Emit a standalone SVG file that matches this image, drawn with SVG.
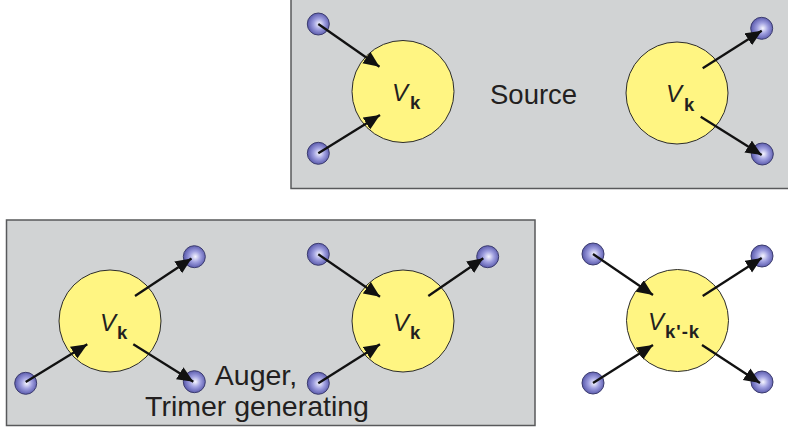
<svg xmlns="http://www.w3.org/2000/svg" width="788" height="428" viewBox="0 0 788 428">
<style>
.box{fill:#d1d3d4;stroke:#58595b;stroke-width:1.5}
.vert{fill:#fff582;stroke:#2b2b2b;stroke-width:1}
.ball{fill:url(#bg);stroke:#3c3c6e;stroke-width:1}
.lab{font-family:"Liberation Sans",Arial,sans-serif;fill:#231f20}
.V{font-size:24px;font-style:italic}
.k{font-size:18.5px;font-weight:bold}
.big{font-size:27.5px}
.con line{stroke:#111;stroke-width:2.3;marker-end:url(#ah)}
</style>
<defs>
<radialGradient id="bg" cx="0.52" cy="0.5" r="0.55" fx="0.55" fy="0.5">
<stop offset="0" stop-color="#f6f6ff"/>
<stop offset="0.45" stop-color="#a0a0e0"/>
<stop offset="1" stop-color="#5050a5"/>
</radialGradient>
<marker id="ah" markerUnits="userSpaceOnUse" markerWidth="18" markerHeight="15" refX="16" refY="7" orient="auto">
<path d="M0,0 L16,7 L0,14 Z" fill="#111"/>
</marker>
</defs>

<g id="source-box"><rect class="box" x="291" y="-2" width="500" height="190.5"/>
<text class="lab big" x="490" y="104">Source</text></g>
<g id="auger-box"><rect class="box" x="6.5" y="220" width="528.5" height="205.5"/>
<text class="lab big" text-anchor="middle" style="font-size:28.5px"><tspan x="256" y="385">Auger,</tspan><tspan x="257" y="416">Trimer generating</tspan></text></g>

<g id="v1"><circle class="vert" cx="403" cy="91.5" r="51"/><text class="lab"><tspan class="V" x="392" y="100.5">V</tspan><tspan class="k" x="410" y="109">k</tspan></text></g>
<g id="v2"><circle class="vert" cx="677" cy="93" r="51"/><text class="lab"><tspan class="V" x="666" y="102">V</tspan><tspan class="k" x="684" y="110.5">k</tspan></text></g>
<g id="v3"><circle class="vert" cx="110" cy="321" r="51"/><text class="lab"><tspan class="V" x="100" y="330.5">V</tspan><tspan class="k" x="117" y="339">k</tspan></text></g>
<g id="v4"><circle class="vert" cx="403" cy="321" r="51"/><text class="lab"><tspan class="V" x="393" y="330.5">V</tspan><tspan class="k" x="410" y="339">k</tspan></text></g>
<g id="v5"><circle class="vert" cx="677.5" cy="320.5" r="51"/><text class="lab"><tspan class="V" x="648" y="329.5">V</tspan><tspan class="k" x="665" y="338" letter-spacing="1">k'-k</tspan></text></g>

<g id="b1"><circle class="ball" cx="318.3" cy="24" r="11"/></g>
<g id="b2"><circle class="ball" cx="318.3" cy="153.3" r="11"/></g>
<g id="b3"><circle class="ball" cx="761.7" cy="28.3" r="11"/></g>
<g id="b4"><circle class="ball" cx="762.3" cy="154" r="11"/></g>
<g id="b5"><circle class="ball" cx="194.3" cy="256.7" r="11"/></g>
<g id="b6"><circle class="ball" cx="25.7" cy="383.3" r="11"/></g>
<g id="b7"><circle class="ball" cx="194.3" cy="381.7" r="11"/></g>
<g id="b8"><circle class="ball" cx="318.3" cy="254.3" r="11"/></g>
<g id="b9"><circle class="ball" cx="487.7" cy="256.7" r="11"/></g>
<g id="b10"><circle class="ball" cx="318.3" cy="383.3" r="11"/></g>
<g id="b11"><circle class="ball" cx="593" cy="254" r="11"/></g>
<g id="b12"><circle class="ball" cx="762" cy="256" r="11"/></g>
<g id="b13"><circle class="ball" cx="593" cy="383" r="11"/></g>
<g id="b14"><circle class="ball" cx="762" cy="382" r="11"/></g>

<g id="connectors" class="con">
<line x1="318.3" y1="24" x2="379.5" y2="66.7"/>
<line x1="318.3" y1="153.3" x2="380" y2="115"/>
<line x1="702.7" y1="68.3" x2="761.7" y2="30.7"/>
<line x1="700.7" y1="116.7" x2="761.7" y2="155"/>
<line x1="135" y1="296" x2="191.5" y2="258.5"/>
<line x1="25.7" y1="382" x2="87.3" y2="344.3"/>
<line x1="133.3" y1="344.3" x2="193.3" y2="381.7"/>
<line x1="318.3" y1="254.3" x2="380" y2="296.7"/>
<line x1="428.3" y1="296" x2="483.3" y2="258.3"/>
<line x1="318.3" y1="383.3" x2="380" y2="344.3"/>
<line x1="593" y1="254" x2="653" y2="295"/>
<line x1="702.7" y1="296" x2="761.7" y2="258"/>
<line x1="593" y1="383" x2="653" y2="345"/>
<line x1="702" y1="345" x2="760" y2="383"/>
</g>
</svg>
